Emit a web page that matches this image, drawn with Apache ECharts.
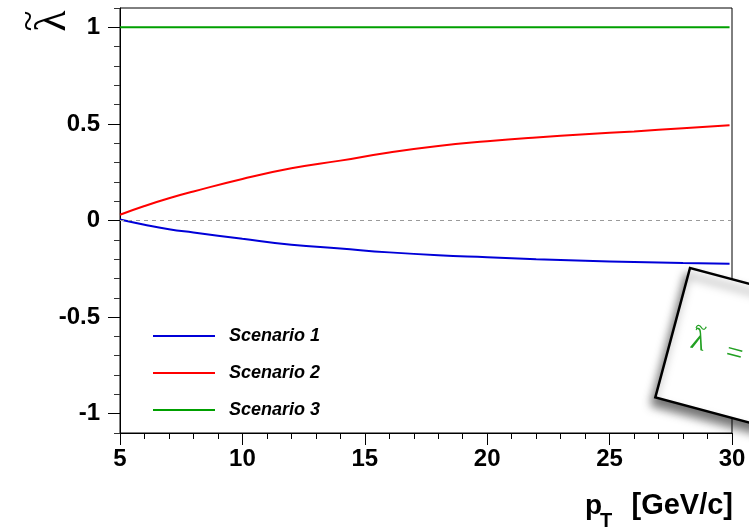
<!DOCTYPE html>
<html><head><meta charset="utf-8">
<script src="https://cdn.jsdelivr.net/npm/echarts@6/dist/echarts.min.js"></script>
<style>html,body{margin:0;padding:0;background:#fff}#c{width:749px;height:528px}</style>
</head><body><div id="c"></div>
<script>
// ---- data ----
const xValues   = [5, 6, 7, 8, 10, 12, 14, 16, 18, 20, 22, 24, 26, 28, 29.9];
const scenario1 = [0.005, -0.022, -0.045, -0.062, -0.095, -0.125, -0.145, -0.165, -0.18, -0.19, -0.2, -0.208, -0.215, -0.22, -0.224];
const scenario2 = [0.03, 0.075, 0.115, 0.15, 0.215, 0.27, 0.31, 0.352, 0.386, 0.41, 0.43, 0.447, 0.461, 0.478, 0.493];
const scenario3 = [1, 1, 1, 1, 1, 1, 1, 1, 1, 1, 1, 1, 1, 1, 1];
const seriesNames = ['Scenario 1', 'Scenario 2', 'Scenario 3'];
const seriesColors = ['#0000d8', '#ff0000', '#00a000'];
const yTickLabels = [-1, -0.5, 0, 0.5, 1];
const xTickLabels = [5, 10, 15, 20, 25, 30];
const yMinorTicks = [-1.1, -0.9, -0.8, -0.7, -0.6, -0.4, -0.3, -0.2, -0.1, 0.1, 0.2, 0.3, 0.4, 0.6, 0.7, 0.8, 0.9, 1.1];

const FONT = 'Liberation Sans';
const chart = echarts.init(document.getElementById('c'), null, {renderer: 'canvas'});
const pairs = (ys) => xValues.map((x, i) => [x, ys[i]]);
const allSeries = [scenario1, scenario2, scenario3];

const option = {
  animation: false,
  backgroundColor: '#fff',
  grid: {left: 120, right: 17, top: 8, bottom: 95, show: true, borderColor: '#000', borderWidth: 1, backgroundColor: 'transparent'},
  legend: {
    orient: 'vertical', left: 148, top: 322, itemGap: 19,
    itemWidth: 62, itemHeight: 2, icon: 'rect',
    data: seriesNames,
    textStyle: {fontFamily: FONT, fontWeight: 'bold', fontStyle: 'italic', fontSize: 18, color: '#000', padding: [0, 0, 0, 9]}
  },
  xAxis: {
    type: 'value', min: 5, max: 30, interval: 5,
    axisLine: {onZero: false, lineStyle: {color: '#000', width: 1}},
    axisTick: {length: 12, lineStyle: {color: '#000'}},
    minorTick: {show: true, splitNumber: 5, length: 6, lineStyle: {color: '#000'}},
    splitLine: {show: false},
    axisLabel: {margin: 14, color: '#000', fontFamily: FONT, fontWeight: 'bold', fontSize: 24,
      formatter: v => xTickLabels.includes(v) ? String(v) : ''}
  },
  yAxis: [{
    type: 'value', min: -1.1, max: 1.1,
    axisLine: {show: true, onZero: false, lineStyle: {color: '#000', width: 1}},
    axisTick: {show: true, length: 12, customValues: yTickLabels, lineStyle: {color: '#000'}},
    splitLine: {show: false},
    axisLabel: {margin: 20, color: '#000', fontFamily: FONT, fontWeight: 'bold', fontSize: 24,
      customValues: yTickLabels, formatter: v => String(v)}
  }, {
    type: 'value', min: -1.1, max: 1.1, position: 'left', offset: 0,
    axisLine: {show: false, onZero: false},
    axisTick: {show: true, length: 6, customValues: yMinorTicks, lineStyle: {color: '#333'}},
    splitLine: {show: false},
    axisLabel: {show: false}
  }],
  series: allSeries.map((ys, i) => ({
    name: seriesNames[i], type: 'line', data: pairs(ys), yAxisIndex: 0,
    symbol: 'none', smooth: true, color: seriesColors[i],
    lineStyle: {width: 2, color: seriesColors[i]},
    markLine: i === 0 ? {silent: true, symbol: 'none', label: {show: false},
      lineStyle: {type: [4, 4], color: '#9a9a9a', width: 1}, data: [{yAxis: 0}]} : undefined
  })),
  graphic: [
    {type: 'group', x: 53, y: 21, rotation: Math.PI / 2,
      children: [
        {type: 'text', x: 0, y: 0,
          style: {text: 'λ', font: 'normal 44px "Liberation Serif"', fill: '#000', align: 'center', verticalAlign: 'middle'}},
        {type: 'text', x: 0, y: -23,
          style: {text: '~', font: 'normal 38px "Liberation Serif"', fill: '#000', align: 'center', verticalAlign: 'middle'}}
      ]},
    {type: 'text', x: 585, y: 506,
      style: {text: 'p', font: 'bold 28px "Liberation Sans"', fill: '#000', align: 'left', verticalAlign: 'middle'}},
    {type: 'text', x: 600, y: 521,
      style: {text: 'T', font: 'bold 20px "Liberation Sans"', fill: '#000', align: 'left', verticalAlign: 'middle'}},
    {type: 'text', x: 733, y: 506,
      style: {text: '[GeV/c]', font: 'bold 29px "Liberation Sans"', fill: '#000', align: 'right', verticalAlign: 'middle'}},
    {type: 'group', x: 690, y: 268, rotation: -15 * Math.PI / 180, z: 100,
      children: [
        {type: 'rect', shape: {x: 0, y: 0, width: 260, height: 134},
          style: {fill: '#fff', stroke: '#000', lineWidth: 2.5, shadowBlur: 10, shadowOffsetX: -3, shadowOffsetY: 7, shadowColor: 'rgba(0,0,0,0.55)'}},
        {type: 'text', x: 27, y: 69,
          style: {text: 'λ', font: 'normal 30px "Liberation Serif"', fill: '#22a022', align: 'center', verticalAlign: 'middle'}},
        {type: 'text', x: 26, y: 56,
          style: {text: '~', font: 'normal 22px "Liberation Serif"', fill: '#22a022', align: 'center', verticalAlign: 'middle'}},
        {type: 'text', x: 65, y: 72,
          style: {text: '=', font: 'normal 30px "Liberation Serif"', fill: '#22a022', align: 'center', verticalAlign: 'middle'}}
      ]}
  ]
};
chart.setOption(option);
</script></body></html>
